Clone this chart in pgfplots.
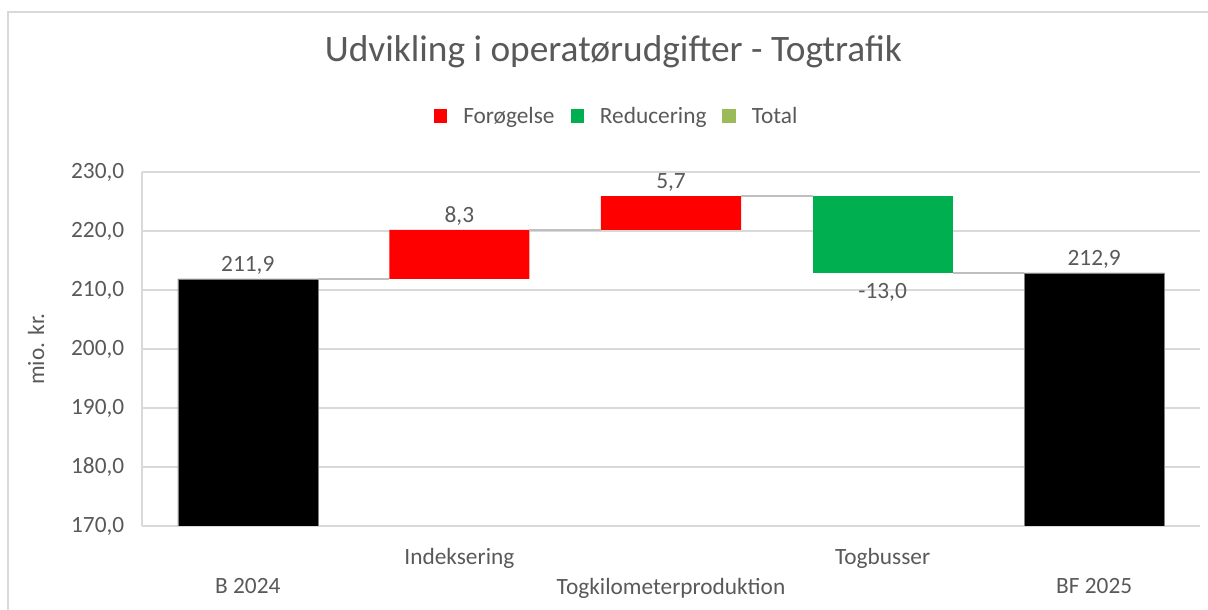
\documentclass[border=0pt]{standalone}
\usepackage{pgfplots}
\pgfplotsset{compat=1.18}
\usepackage{fontspec}
\setmainfont{Carlito}
\definecolor{txt}{HTML}{595959}
\definecolor{gridc}{HTML}{D9D9D9}
\definecolor{incr}{HTML}{FF0000}
\definecolor{decr}{HTML}{00B050}
\definecolor{tot}{HTML}{9BBB59}
\definecolor{conn}{HTML}{BFBFBF}
\pgfplotsset{
  common/.style={
    at={(106.5pt,-394.5pt)}, anchor=south west,
    scale only axis, width=793.5pt, height=265.5pt,
    xmin=-0.5, xmax=4.5, ymin=170, ymax=230,
  }
}
\begin{document}
\begin{tikzpicture}
\useasboundingbox (0,0) rectangle (906pt,-457.5pt);
\draw[gridc, line width=1pt] (6pt,-9pt) rectangle (920pt,-470pt);
\node[txt, font=\fontsize{28}{32}\selectfont] at (460pt,-38.5pt) {Udvikling i operatørudgifter - Togtrafik};
\begin{axis}[common,
  ybar stacked, bar width=105pt,
  axis x line=bottom, axis y line=left,
  x axis line style={gridc, line width=1pt, -},
  y axis line style={gridc, line width=1pt, -},
  ytick={170,180,...,230},
  ymajorgrids, grid style={gridc, line width=1pt},
  major tick length=0pt,
  yticklabel style={txt, font=\fontsize{17.5}{20}\selectfont, xshift=-9.75pt},
  /pgf/number format/.cd, fixed, fixed zerofill, precision=1, use comma, assume math mode=true, /pgfplots/.cd,
  xtick={0,2,4},
  xticklabels={B 2024, Togkilometerproduktion, BF 2025},
  xticklabel style={txt, font=\fontsize{17.5}{20}\selectfont, yshift=-36pt},
  extra x ticks={1,3},
  extra x tick labels={Indeksering, Togbusser},
  extra x tick style={grid=none, xticklabel style={yshift=22.5pt}},
  ylabel={mio. kr.},
  ylabel style={txt, font=\fontsize{17.5}{20}\selectfont, at={(-0.1,0.5)}, anchor=center},
  legend style={at={(0.449,1.158)}, anchor=center, draw=none, fill=none,
    legend columns=-1, font=\fontsize{17.5}{20}\selectfont, text=txt,
    /tikz/every odd column/.append style={column sep=10pt},
    /tikz/every even column/.append style={column sep=10pt}},
  legend image code/.code={\fill[#1, draw=none] (0pt,-5pt) rectangle (10pt,5pt);},
]
\addplot[draw=none, fill=none, forget plot] coordinates {(0,0) (1,211.9) (2,220.2) (3,212.9) (4,0)};
\addplot[draw=none, fill=incr] coordinates {(0,0) (1,8.3) (2,5.7) (3,0) (4,0)};
\addlegendentry{Forøgelse}
\addplot[draw=none, fill=decr] coordinates {(0,0) (1,0) (2,0) (3,13.0) (4,0)};
\addlegendentry{Reducering}
\addplot[draw=gray, fill=black, forget plot] coordinates {(0,211.9) (1,0) (2,0) (3,0) (4,212.9)};
\addlegendimage{fill=tot, draw=none}
\addlegendentry{Total}
\end{axis}
\begin{axis}[common, hide axis, clip=false]
\addplot[conn, line width=1.5pt] coordinates {(0.331,211.9) (0.669,211.9)};
\addplot[conn, line width=1.5pt] coordinates {(1.331,220.2) (1.669,220.2)};
\addplot[conn, line width=1.5pt] coordinates {(2.331,225.9) (2.669,225.9)};
\addplot[conn, line width=1.5pt] coordinates {(3.331,212.9) (3.669,212.9)};
\addplot[draw=none, mark=none, nodes near coords, point meta=explicit symbolic,
  every node near coord/.append style={txt, font=\fontsize{17.5}{20}\selectfont, anchor=south, yshift=0pt}]
  coordinates {(0,211.9) [211,9] (1,220.2) [8,3] (2,225.9) [5,7] (4,212.9) [212,9]};
\addplot[draw=none, mark=none, nodes near coords, point meta=explicit symbolic,
  every node near coord/.append style={txt, font=\fontsize{17.5}{20}\selectfont, anchor=north, yshift=-4pt}]
  coordinates {(3,212.9) [-13,0]};
\end{axis}
\end{tikzpicture}
\end{document}
